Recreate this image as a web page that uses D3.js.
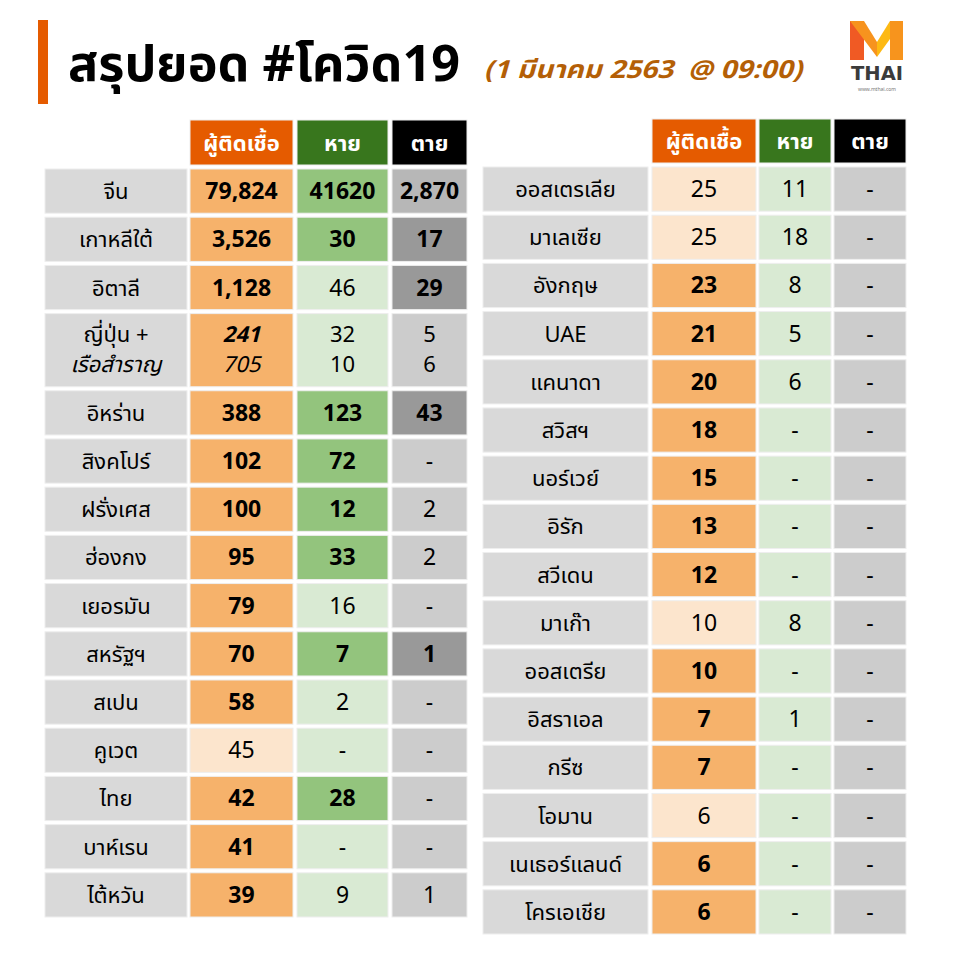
<!DOCTYPE html>
<html>
<head>
<meta charset="utf-8">
<script src="https://cdn.jsdelivr.net/npm/d3@7"></script>
<style>
  body { margin: 0; background: #fff; }
  svg text { font-family: "Noto Sans Thai", "Kanit", "Noto Sans", "DejaVu Sans", sans-serif; }
</style>
</head>
<body>
<div id="chart"></div>
<script>
// ---- data ----
var headers = ["ผู้ติดเชื้อ", "หาย", "ตาย"];

var leftCountries = ["จีน", "เกาหลีใต้", "อิตาลี", ["ญี่ปุ่น +", "เรือสำราญ"], "อิหร่าน", "สิงคโปร์", "ฝรั่งเศส",
    "ฮ่องกง", "เยอรมัน", "สหรัฐฯ", "สเปน", "คูเวต", "ไทย", "บาห์เรน", "ไต้หวัน"];
var leftInfected = ["79,824", "3,526", "1,128", ["241", "705"], "388", "102", "100", "95", "79", "70", "58", "45", "42", "41", "39"];
var leftRecovered = ["41620", "30", "46", ["32", "10"], "123", "72", "12", "33", "16", "7", "2", "-", "28", "-", "9"];
var leftDeaths = ["2,870", "17", "29", ["5", "6"], "43", "-", "2", "2", "-", "1", "-", "-", "-", "-", "1"];
// 1 = rose since last report (highlighted), 0 = unchanged
var leftInfectedNew = [1, 1, 1, 1, 1, 1, 1, 1, 1, 1, 1, 0, 1, 1, 1];
var leftRecoveredNew = [1, 1, 0, 0, 1, 1, 1, 1, 0, 1, 0, 0, 1, 0, 0];
var leftDeathsNew = [2, 1, 1, 0, 1, 0, 0, 0, 0, 1, 0, 0, 0, 0, 0];

var rightCountries = ["ออสเตรเลีย", "มาเลเซีย", "อังกฤษ", "UAE", "แคนาดา", "สวิสฯ", "นอร์เวย์", "อิรัก",
    "สวีเดน", "มาเก๊า", "ออสเตรีย", "อิสราเอล", "กรีซ", "โอมาน", "เนเธอร์แลนด์", "โครเอเชีย"];
var rightInfected = ["25", "25", "23", "21", "20", "18", "15", "13", "12", "10", "10", "7", "7", "6", "6", "6"];
var rightRecovered = ["11", "18", "8", "5", "6", "-", "-", "-", "-", "8", "-", "1", "-", "-", "-", "-"];
var rightDeaths = ["-", "-", "-", "-", "-", "-", "-", "-", "-", "-", "-", "-", "-", "-", "-", "-"];
var rightInfectedNew = [0, 0, 1, 1, 1, 1, 1, 1, 1, 0, 1, 1, 1, 0, 1, 1];
var rightRecoveredNew = [0, 0, 0, 0, 0, 0, 0, 0, 0, 0, 0, 0, 0, 0, 0, 0];
var rightDeathsNew = [0, 0, 0, 0, 0, 0, 0, 0, 0, 0, 0, 0, 0, 0, 0, 0];

var title = "สรุปยอด #โควิด19";
var subtitle = "(1 มีนาคม 2563  @ 09:00)";

// ---- drawing ----
var W = 960, H = 960;
var svg = d3.select("#chart").append("svg")
    .attr("width", W)
    .attr("height", H);

var headerColors = ["#e55b00", "#38761d", "#000000"];
var fillScales = [
    d3.scaleOrdinal().domain([0, 1]).range(["#fce5cd", "#f6b26b"]),
    d3.scaleOrdinal().domain([0, 1]).range(["#d9ead3", "#93c47d"]),
    d3.scaleOrdinal().domain([0, 1, 2]).range(["#cccccc", "#999999", "#b7b7b7"])
];
var nameFill = "#d9d9d9";

// title
svg.append("rect").attr("x", 38).attr("y", 20).attr("width", 10).attr("height", 84).attr("fill", "#e55b00");
svg.append("text")
    .attr("x", 68).attr("y", 81)
    .attr("font-size", 50).attr("font-weight", "bold").attr("fill", "#000")
    .attr("textLength", 392).attr("lengthAdjust", "spacingAndGlyphs")
    .text(title);
svg.append("text")
    .attr("x", 484).attr("y", 78)
    .attr("font-size", 25).attr("font-weight", "bold").attr("font-style", "italic")
    .attr("fill", "#b45f06")
    .attr("textLength", 318).attr("lengthAdjust", "spacingAndGlyphs")
    .attr("xml:space", "preserve")
    .style("white-space", "pre")
    .text(subtitle);

// logo
var logo = svg.append("g");
logo.append("polygon").attr("points", "850,21 864,21 864,60 850,60").attr("fill", "#f05a24");
logo.append("polygon").attr("points", "850,21 864,21 877,42 877,57").attr("fill", "#f7931e");
logo.append("polygon").attr("points", "890,21 903,21 877,57 877,42").attr("fill", "#fdb913");
logo.append("polygon").attr("points", "890,21 903,21 903,60 890,60").attr("fill", "#f7941d");
logo.append("text").attr("x", 877).attr("y", 80).attr("text-anchor", "middle")
    .attr("font-size", 20).attr("font-weight", "bold").attr("fill", "#3b3b3b")
    .attr("textLength", 52).attr("lengthAdjust", "spacingAndGlyphs")
    .style("font-family", "'DejaVu Sans Condensed', 'DejaVu Sans', sans-serif")
    .text("THAI");
logo.append("text").attr("x", 877).attr("y", 91).attr("text-anchor", "middle")
    .attr("font-size", 5).attr("fill", "#777")
    .text("www.mthai.com");

function drawTable(opts) {
    var g = svg.append("g");
    var n = opts.countries.length;
    var weights = opts.countries.map(function (c) { return Array.isArray(c) ? 1.6 : 1; });
    var cum = [0];
    weights.forEach(function (w, i) { cum.push(cum[i] + w); });
    var gap = 4;
    var y = d3.scaleLinear().domain([0, cum[n]]).range([opts.top, opts.bottom + gap]);
    var x = opts.colX;
    var w = opts.colW;

    // headers
    headers.forEach(function (h, i) {
        g.append("rect")
            .attr("x", x[i + 1]).attr("y", opts.headTop)
            .attr("width", w[i + 1]).attr("height", opts.headH)
            .attr("fill", headerColors[i])
            .attr("stroke", "#eee").attr("stroke-width", 1);
        g.append("text")
            .attr("x", x[i + 1] + w[i + 1] / 2).attr("y", opts.headTop + opts.headH / 2 + 8)
            .attr("text-anchor", "middle")
            .attr("font-size", 22).attr("font-weight", "bold").attr("fill", "#fff")
            .text(h);
    });

    var cols = [opts.countries, opts.infected, opts.recovered, opts.deaths];
    var flags = [null, opts.infectedNew, opts.recoveredNew, opts.deathsNew];

    d3.range(n).forEach(function (r) {
        var y0 = y(cum[r]);
        var hgt = y(cum[r + 1]) - y0 - gap;
        cols.forEach(function (col, c) {
            var fill = c === 0 ? nameFill : fillScales[c - 1](flags[c][r]);
            g.append("rect")
                .attr("x", x[c]).attr("y", y0)
                .attr("width", w[c]).attr("height", hgt)
                .attr("fill", fill)
                .attr("stroke", "#eeeeee").attr("stroke-width", 1);
            var val = col[r];
            var bold = c > 0 && flags[c][r] > 0;
            var cx = x[c] + w[c] / 2;
            if (Array.isArray(val)) {
                val.forEach(function (v, k) {
                    var t = g.append("text")
                        .attr("x", cx).attr("y", y0 + hgt / 2 + (k === 0 ? -8 : 22))
                        .attr("text-anchor", "middle")
                        .attr("font-size", 22).attr("fill", "#000")
                        .text(v);
                    if (c === 0) {
                        if (k === 1) t.attr("font-style", "italic");
                    } else if (c === 1) {
                        t.attr("font-style", "italic");
                        if (k === 0) t.attr("font-weight", "bold");
                    }
                });
            } else {
                g.append("text")
                    .attr("x", cx).attr("y", y0 + hgt / 2 + 8)
                    .attr("text-anchor", "middle")
                    .attr("font-size", c === 0 ? 22 : 23)
                    .attr("font-weight", bold ? "bold" : "normal")
                    .attr("fill", "#000")
                    .text(val);
            }
        });
    });
}

drawTable({
    countries: leftCountries, infected: leftInfected, recovered: leftRecovered, deaths: leftDeaths,
    infectedNew: leftInfectedNew, recoveredNew: leftRecoveredNew, deathsNew: leftDeathsNew,
    colX: [45, 190, 297, 392], colW: [142, 103, 91, 75],
    headTop: 120, headH: 45, top: 169, bottom: 917
});

drawTable({
    countries: rightCountries, infected: rightInfected, recovered: rightRecovered, deaths: rightDeaths,
    infectedNew: rightInfectedNew, recoveredNew: rightRecoveredNew, deathsNew: rightDeathsNew,
    colX: [483, 652, 759, 834], colW: [165, 104, 72, 72],
    headTop: 119, headH: 44, top: 167, bottom: 934
});
</script>
</body>
</html>
